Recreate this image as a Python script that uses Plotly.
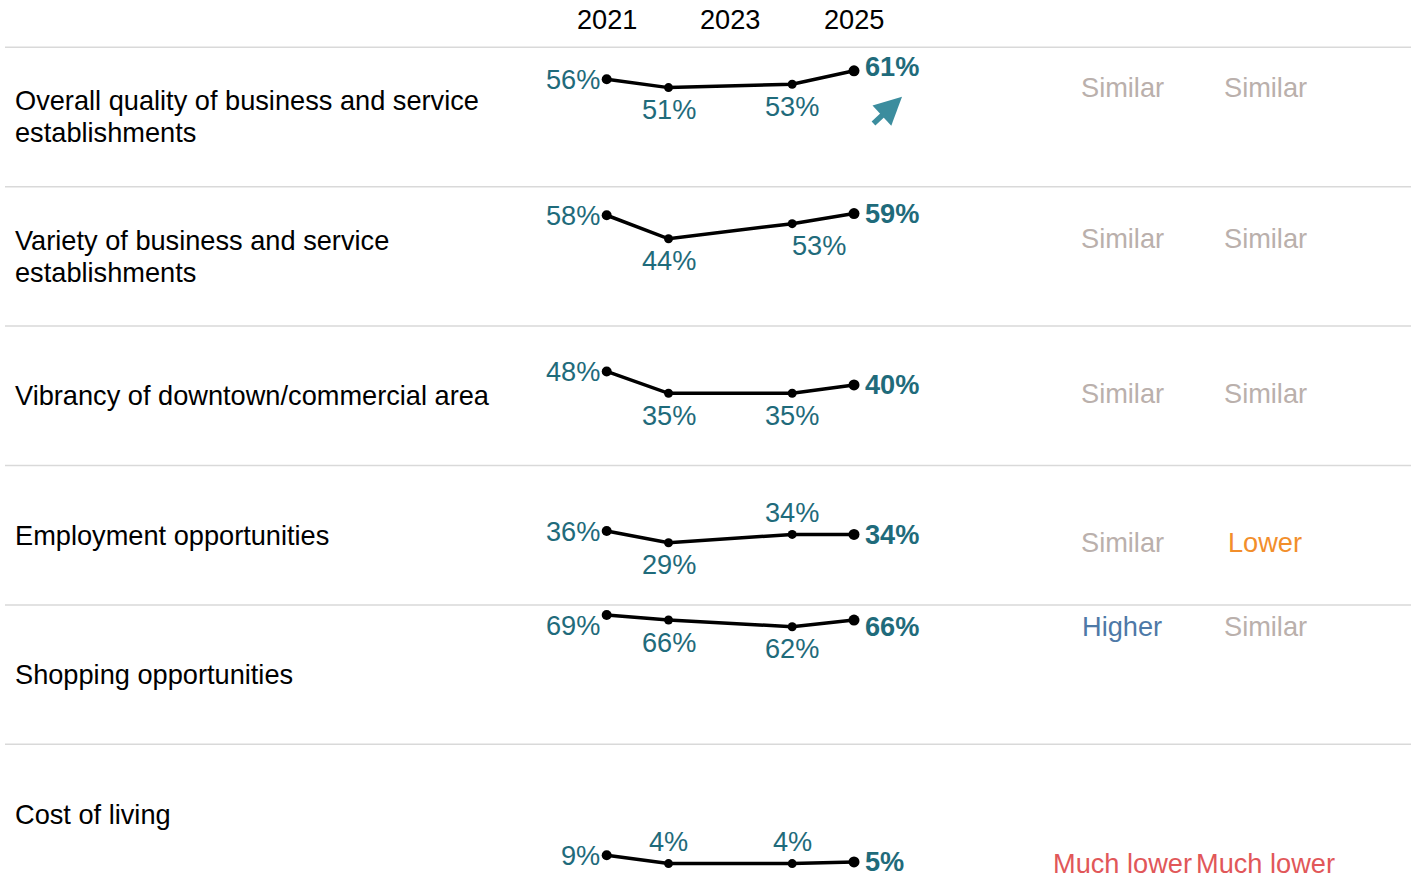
import plotly.graph_objects as go

# ---------------- data ----------------
years = [2021, 2022, 2024, 2025]
header_years = [2021, 2023, 2025]
categories = [
    "Overall quality of business and service<br>establishments",
    "Variety of business and service<br>establishments",
    "Vibrancy of downtown/commercial area",
    "Employment opportunities",
    "Shopping opportunities",
    "Cost of living",
]
quality = [56, 51, 53, 61]
variety = [58, 44, 53, 59]
vibrancy = [48, 35, 35, 40]
employment = [36, 29, 34, 34]
shopping = [69, 66, 62, 66]
cost = [9, 4, 4, 5]
series = [quality, variety, vibrancy, employment, shopping, cost]
compare_1 = ["Similar", "Similar", "Similar", "Similar", "Higher", "Much lower"]
compare_2 = ["Similar", "Similar", "Similar", "Lower", "Similar", "Much lower"]

# ---------------- styling ----------------
W, H = 1416, 880
FONT = "Arial, Liberation Sans, sans-serif"
FS = 27.2
TEAL = "#1f6b7b"
ARROW = "#3c8d9e"
comp_colors = {"Similar": "#bab0ac", "Higher": "#4e79a7",
               "Lower": "#f28e2b", "Much lower": "#e15759"}
# middle-label placement: +1 above, -1 below
mid_pos = [[-1, -1], [-1, -1], [-1, -1], [-1, 1], [-1, -1], [1, 1]]
mid_xshift = [[0, 0], [0, 27], [0, 0], [0, 0], [0, 0], [0, 0]]
first_shift = [0, 0, 0, 0, -11, 0]
last_shift = [4, 0, 0, 0, -6, 0]

top_px = 47.3
row_h = 139.4
px_per = 1.68
v_top = 126 / px_per
line_gap = 32

# x axis: 2021 -> 606.7px, 2025 -> 854px
x0_px, x1_px = 560, 900
ppy = (854 - 606.7) / 4
xr = [2021 - (606.7 - x0_px) / ppy, 2025 + (x1_px - 854) / ppy]

fig = go.Figure()
layout = dict(
    width=W, height=H,
    margin=dict(l=0, r=0, t=0, b=0),
    paper_bgcolor="white", plot_bgcolor="rgba(0,0,0,0)",
    showlegend=False,
    font=dict(family=FONT, size=FS, color="black"),
    xaxis=dict(domain=[x0_px / W, x1_px / W], range=xr, visible=False,
               fixedrange=True, anchor="y"),
)
annotations = []
shapes = []

for i, vals in enumerate(series):
    rt = top_px + i * row_h
    h_i = min(row_h, H - rt)
    yname = "yaxis" if i == 0 else f"yaxis{i+1}"
    yref = "y" if i == 0 else f"y{i+1}"
    layout[yname] = dict(
        domain=[1 - (rt + h_i) / H, 1 - rt / H],
        range=[v_top - h_i / px_per, v_top],
        visible=False, fixedrange=True, anchor="x",
    )
    fig.add_trace(go.Scatter(
        x=years, y=vals, xaxis="x", yaxis=yref, mode="lines+markers",
        line=dict(color="black", width=3.5),
        marker=dict(color="black", size=[10, 9, 9, 11], opacity=1,
                    line=dict(width=0, color="black")),
        cliponaxis=False, hoverinfo="skip",
    ))
    # first value label (left)
    annotations.append(dict(
        x=years[0], y=vals[0], xref="x", yref=yref, text=f"{vals[0]}%",
        showarrow=False, xanchor="right", yanchor="middle", xshift=-5,
        yshift=first_shift[i], font=dict(color=TEAL, size=FS)))
    # middle labels
    for k in (1, 2):
        p = mid_pos[i][k - 1]
        annotations.append(dict(
            x=years[k], y=vals[k], xref="x", yref=yref, text=f"{vals[k]}%",
            showarrow=False, xanchor="center", yanchor="middle", yshift=22 * p,
            xshift=mid_xshift[i][k - 1], font=dict(color=TEAL, size=FS)))
    # last label (bold)
    annotations.append(dict(
        x=years[-1], y=vals[-1], xref="x", yref=yref, text=f"<b>{vals[-1]}%</b>",
        showarrow=False, xanchor="left", yanchor="middle", xshift=9,
        yshift=last_shift[i], font=dict(color=TEAL, size=FS)))
    # category label (one annotation per line for tight line spacing)
    lines = categories[i].split("<br>")
    n = len(lines)
    for j, ln in enumerate(lines):
        annotations.append(dict(
            x=13 / W, xref="paper", y=v_top - (row_h / 2) / px_per, yref=yref,
            yshift=((n - 1) / 2 - j) * line_gap,
            text=ln, showarrow=False, xanchor="left", yanchor="middle",
            align="left", font=dict(color="black", size=FS)))
    # comparison labels at level of series minimum
    for cx, comp in ((1122, compare_1[i]), (1265, compare_2[i])):
        annotations.append(dict(
            x=cx / W, xref="paper", y=min(vals), yref=yref, text=comp,
            showarrow=False, xanchor="center", yanchor="middle",
            font=dict(color=comp_colors[comp], size=FS)))
    # separator line at top of row
    shapes.append(dict(type="line", xref="paper", yref="paper",
                       x0=5 / W, x1=1411 / W, y0=1 - rt / H, y1=1 - rt / H,
                       line=dict(color="#d9d9d9", width=1.5)))

# header years
for yv in header_years:
    annotations.append(dict(
        x=yv, xref="x", y=1 - 20 / H, yref="paper", text=str(yv),
        showarrow=False, xanchor="center", yanchor="middle",
        font=dict(color="black", size=FS)))

# trend arrow for first row
annotations.append(dict(
    x=years[-1], y=quality[-1], xref="x", yref="y",
    xshift=48, yshift=-26, ax=-30, ay=28, showarrow=True,
    arrowhead=2, arrowsize=1.0, arrowwidth=5.5, arrowcolor=ARROW, text=""))

layout["annotations"] = annotations
layout["shapes"] = shapes
fig.update_layout(**layout)
fig.write_html("out.html", config={"displayModeBar": False},
               post_script="document.body.style.margin='0';"
                           "document.body.style.overflow='hidden';")
